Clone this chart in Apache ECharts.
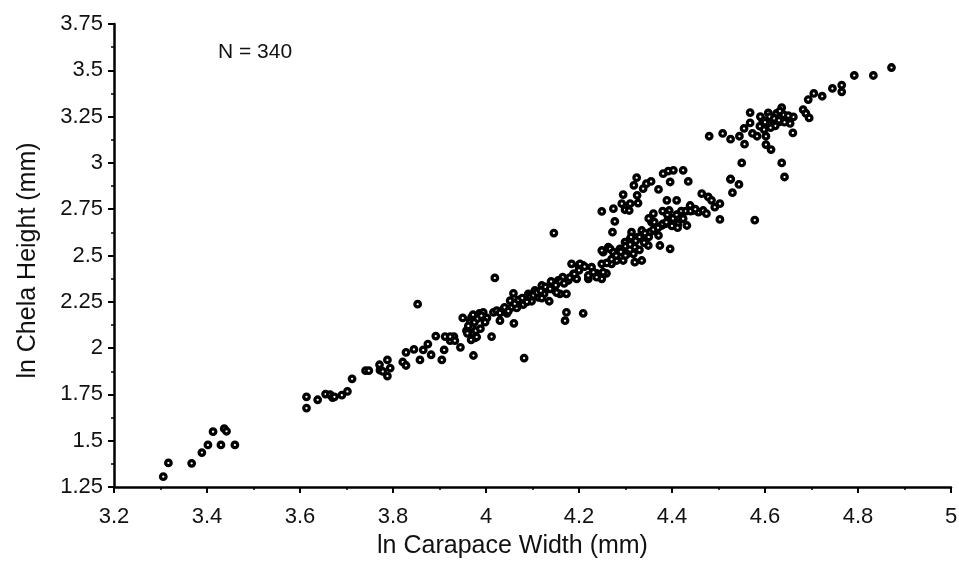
<!DOCTYPE html>
<html>
<head>
<meta charset="utf-8">
<script src="https://cdn.jsdelivr.net/npm/echarts@6/dist/echarts.min.js"></script>
<style>
  html, body { margin: 0; padding: 0; background: #fff; }
  #chart { width: 959px; height: 563px; }
</style>
</head>
<body>
<div id="chart"></div>
<script>
// ln carapace width (x) and ln chela height (y)
const carapaceWidth = [
  3.306, 3.317, 3.367, 3.389, 3.402, 3.413, 3.430, 3.437, 3.442, 3.460,
  3.614, 3.614, 3.638, 3.655, 3.665, 3.670, 3.674, 3.690, 3.702, 3.712,
  3.741, 3.748, 3.771, 3.772, 3.778, 3.788, 3.794, 3.788, 3.821, 3.828,
  3.828, 3.845, 3.853, 3.858, 3.865, 3.875, 3.882, 3.892, 3.905, 3.910,
  3.912, 3.923, 3.931, 3.945, 3.923, 3.933,
  3.950, 3.958, 3.966, 3.969, 3.973, 3.976, 3.978, 3.969, 3.973, 3.986,
  3.994, 4.002, 4.012, 4.019, 4.016, 4.023, 4.030, 4.037, 4.045, 4.052,
  4.055, 4.059, 4.060, 4.066, 4.073, 4.080, 4.082, 4.091, 4.098, 4.105,
  4.113, 4.120, 4.125, 4.130, 4.136, 4.141, 4.148, 4.155, 4.159, 4.165,
  4.170, 4.173, 4.173, 4.177, 4.184, 4.188, 4.195, 4.199, 4.209, 4.209,
  4.220, 4.227, 4.238, 4.249, 4.249, 4.252, 4.259, 4.263, 4.146,
  4.249, 4.274, 4.277, 4.272, 4.292, 4.295, 4.299, 4.308, 4.310, 4.318,
  4.324, 4.325, 4.327, 4.338, 4.345, 4.355, 4.371, 4.381, 4.392, 4.396,
  4.403, 4.424, 4.435,
  4.202, 4.220, 4.231, 4.238, 4.249, 4.252, 4.267, 4.270, 4.274, 4.281,
  4.288, 4.295, 4.299, 4.303, 4.310, 4.313, 4.317, 4.320, 4.320, 4.327,
  4.335, 4.335, 4.342, 4.349, 4.353, 4.356, 4.360, 4.363, 4.371, 4.374,
  4.378, 4.385, 4.389, 4.392, 4.394, 4.396, 4.399, 4.406, 4.410, 4.413,
  4.417, 4.424, 4.432, 4.439, 4.446, 4.457, 4.464, 4.467, 4.474, 4.478,
  4.485, 4.492, 4.503, 4.503, 4.526, 4.530, 4.544, 4.550,
  4.480, 4.509, 4.526, 4.545, 4.556, 4.555, 4.568, 4.568, 4.573, 4.583,
  4.589, 4.595, 4.602, 4.602, 4.607, 4.607, 4.613, 4.618, 4.625, 4.631,
  4.636, 4.636, 4.642, 4.643, 4.650, 4.654, 4.660, 4.661, 4.682, 4.688,
  4.695, 4.693, 4.705, 4.723, 4.745, 4.765, 4.765, 4.792, 4.833, 4.872,
  4.526, 4.578,
  3.962, 3.972, 3.975, 3.982, 3.960, 3.988, 3.980, 3.990, 3.968, 3.998,
  4.040, 4.062, 4.070, 4.078, 4.088, 4.048, 4.030, 4.095,
  4.102, 4.110, 4.118, 4.128, 4.138, 4.150, 4.152, 4.160, 4.168, 4.180,
  4.120, 4.140, 4.190, 4.200, 4.212,
  4.280, 4.290, 4.300, 4.310, 4.322, 4.330, 4.342, 4.350, 4.360, 4.370,
  4.380, 4.388, 4.400, 4.402, 4.410, 4.420, 4.430, 4.440, 4.450, 4.380,
  4.390, 4.412, 4.362, 4.340, 4.330, 4.312, 4.300, 4.270, 4.260, 4.350,
  4.600, 4.610, 4.620, 4.622, 4.630, 4.640, 4.598, 4.590, 4.632, 4.642,
  4.650, 4.612
];
const chelaHeight = [
  1.306, 1.380, 1.378, 1.436, 1.477, 1.549, 1.477, 1.565, 1.551, 1.477,
  1.737, 1.676, 1.721, 1.752, 1.748, 1.733, 1.737, 1.746, 1.766, 1.834,
  1.878, 1.878, 1.910, 1.881, 1.874, 1.936, 1.892, 1.849, 1.925, 1.906,
  1.977, 1.993, 2.237, 1.936, 1.990, 2.022, 1.964, 2.065, 1.936, 1.990,
  2.062, 2.040, 2.062, 2.004, 2.062, 2.040,
  2.163, 2.094, 2.148, 2.112, 2.076, 2.055, 2.094, 2.166, 1.960, 2.188,
  2.193, 2.163, 2.062, 2.379, 2.193, 2.202, 2.148, 2.209, 2.188, 2.256,
  2.220, 2.296, 2.134, 2.217, 2.239, 2.235, 1.946, 2.293, 2.253, 2.311,
  2.274, 2.338, 2.293, 2.320, 2.253, 2.347, 2.311, 2.365, 2.293, 2.383,
  2.148, 2.193, 2.293, 2.365, 2.455, 2.401, 2.374, 2.446, 2.188, 2.446,
  2.374, 2.437, 2.404, 2.455, 2.374, 2.518, 2.404, 2.545, 2.621,
  2.738, 2.753, 2.684, 2.626, 2.780, 2.829, 2.747, 2.743, 2.780, 2.879,
  2.920, 2.825, 2.783, 2.861, 2.888, 2.900, 2.857, 2.942, 2.956, 2.897,
  2.960, 2.960, 2.900,
  2.455, 2.392, 2.410, 2.383, 2.527, 2.410, 2.536, 2.455, 2.518, 2.473,
  2.536, 2.473, 2.572, 2.509, 2.590, 2.626, 2.509, 2.545, 2.464, 2.599,
  2.473, 2.635, 2.581, 2.554, 2.626, 2.680, 2.726, 2.635, 2.608, 2.554,
  2.662, 2.671, 2.798, 2.707, 2.743, 2.536, 2.662, 2.689, 2.798, 2.671,
  2.726, 2.699, 2.662, 2.770, 2.743, 2.734, 2.834, 2.743, 2.726, 2.816,
  2.798, 2.761, 2.780, 2.695, 2.911, 2.839, 2.884, 3.000,
  3.144, 3.159, 3.128, 3.144, 3.101, 3.186, 3.216, 3.272, 3.159, 3.144,
  3.198, 3.230, 3.144, 3.099, 3.270, 3.213, 3.072, 3.240, 3.267, 3.221,
  3.299, 3.000, 2.924, 3.248, 3.240, 3.213, 3.162, 3.248, 3.288, 3.267,
  3.243, 3.342, 3.375, 3.360, 3.402, 3.420, 3.384, 3.472, 3.472, 3.515,
  2.913, 2.691,
  2.120, 2.180, 2.140, 2.160, 2.080, 2.105, 2.060, 2.175, 2.045, 2.140,
  2.220, 2.240, 2.260, 2.270, 2.250, 2.200, 2.190, 2.280,
  2.285, 2.300, 2.310, 2.330, 2.320, 2.340, 2.300, 2.360, 2.350, 2.380,
  2.270, 2.360, 2.400, 2.420, 2.440,
  2.500, 2.520, 2.550, 2.560, 2.580, 2.600, 2.620, 2.600, 2.640, 2.650,
  2.670, 2.680, 2.660, 2.700, 2.720, 2.740, 2.740, 2.740, 2.750, 2.740,
  2.720, 2.650, 2.680, 2.570, 2.530, 2.600, 2.500, 2.480, 2.460, 2.700,
  3.220, 3.250, 3.240, 3.200, 3.230, 3.260, 3.180, 3.250, 3.280, 3.220,
  3.255, 3.190
];

const xTitle = 'ln Carapace Width (mm)';
const yTitle = 'ln Chela Height (mm)';
const noteText = 'N = 340';
const fontFamily = '"Liberation Sans", Arial, Helvetica, sans-serif';

const points = carapaceWidth.map((x, i) => [x, chelaHeight[i]]);

const chart = echarts.init(document.getElementById('chart'));

// shared axis look: thick black line, outward ticks, half-step minor ticks
const axisCommon = {
  type: 'value',
  nameLocation: 'middle',
  axisLine: { show: true, onZero: false, lineStyle: { color: '#000', width: 2.5 } },
  axisTick: { show: true, inside: false, length: 6, lineStyle: { color: '#000', width: 2 } },
  minorTick: { show: true, splitNumber: 2, length: 3, lineStyle: { color: '#000', width: 1.5 } },
  splitLine: { show: false },
  minorSplitLine: { show: false }
};

const option = {
  animation: false,
  backgroundColor: '#fff',
  grid: { left: 114, right: 8, top: 24, bottom: 76, outerBoundsMode: 'none' },
  xAxis: Object.assign({}, axisCommon, {
    min: 3.2,
    max: 5,
    interval: 0.2,
    name: xTitle,
    nameGap: 47,
    nameTextStyle: { fontSize: 25, color: '#111', fontFamily: fontFamily, padding: [0, 40, 0, 0] },
    axisLabel: { fontSize: 22, color: '#111', margin: 19, fontFamily: fontFamily }
  }),
  yAxis: Object.assign({}, axisCommon, {
    min: 1.25,
    max: 3.75,
    interval: 0.25,
    name: yTitle,
    nameGap: 73,
    nameTextStyle: { fontSize: 25, color: '#111', fontFamily: fontFamily, padding: [0, 10, 0, 0] },
    axisLabel: { fontSize: 22, color: '#111', margin: 11, fontFamily: fontFamily }
  }),
  graphic: [
    {
      type: 'text',
      left: 218,
      top: 42,
      style: { text: noteText, fontSize: 21, fill: '#111', fontFamily: fontFamily }
    }
  ],
  series: [
    {
      type: 'scatter',
      data: points,
      symbol: 'circle',
      symbolSize: 5.5,
      itemStyle: { color: '#fff', borderColor: '#000', borderWidth: 3.3, opacity: 1 }
    }
  ]
};

chart.setOption(option);
</script>
</body>
</html>
